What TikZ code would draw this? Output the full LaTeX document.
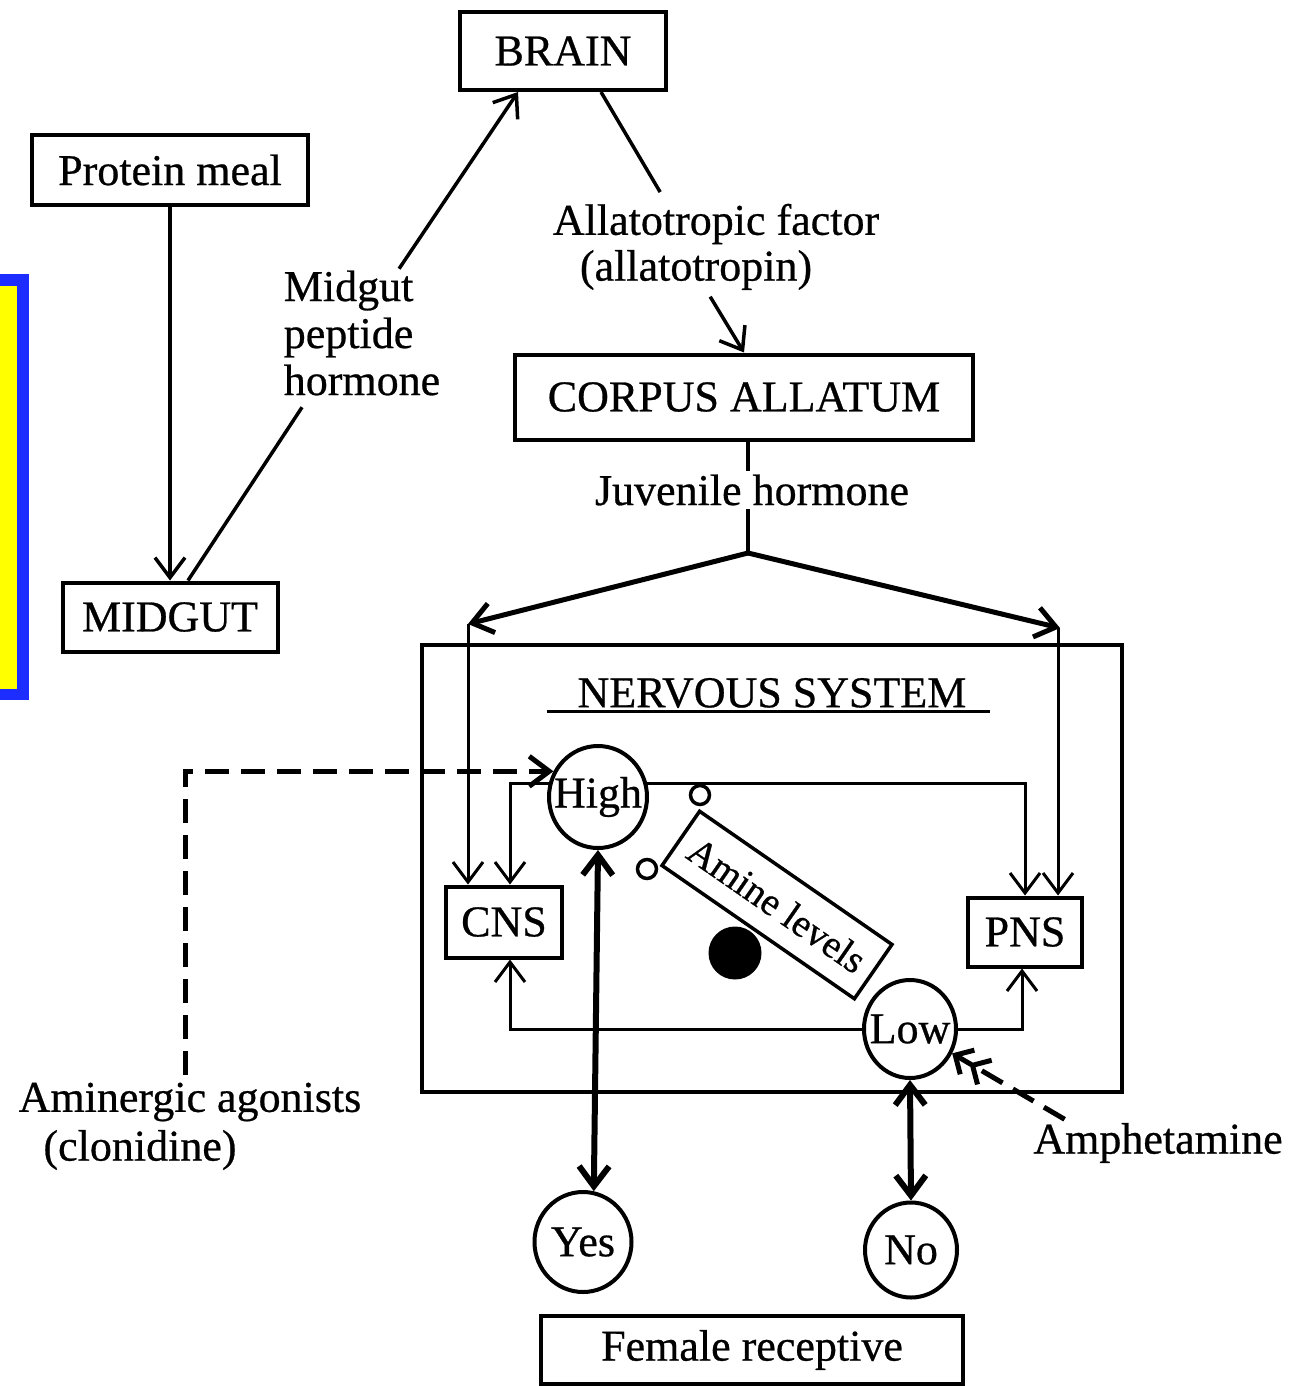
\documentclass[tikz,border=0pt]{standalone}
\usepackage{fontspec}
\setmainfont{Liberation Serif}[FakeBold=0.6]
\usetikzlibrary{arrows.meta,shapes.geometric}
\definecolor{frameblue}{RGB}{30,45,255}
\definecolor{boxyellow}{RGB}{255,255,0}
\begin{document}
\begin{tikzpicture}[x=1pt,y=-1pt,
  font=\fontsize{44}{47}\selectfont,
  line width=3.5pt,
  box/.style={draw, line width=4pt, inner sep=0pt},
  oval/.style={draw, ellipse, line width=4pt, inner sep=0pt},
  lab/.style={inner sep=2pt},
  thin/.style={line width=3pt},
  heavy/.style={line width=6pt},
  arr/.style={-{Straight Barb[length=20pt,width=30pt]}},
  darr/.style={{Straight Barb[length=20pt,width=30pt]}-{Straight Barb[length=20pt,width=30pt]}},
  dsh/.style={line width=5pt, dash pattern=on 24pt off 12pt},
]
\useasboundingbox (0,0) rectangle (1308,1386);
\fill[white] (0,0) rectangle (1308,1386);

% yellow panel with blue frame
\fill[frameblue] (0,274) rectangle (29,700);
\fill[boxyellow] (0,286) rectangle (17,689);

% boxes
\node[box, minimum width=206pt, minimum height=78pt] (brain) at (563,51) {BRAIN};
\node[box, minimum width=276pt, minimum height=70pt] (protein) at (170,170) {Protein meal};
\node[box, minimum width=215pt, minimum height=69pt] (midgut) at (170,617) {MIDGUT};
\node[box, minimum width=458pt, minimum height=85pt] (ca) at (744,397) {CORPUS ALLATUM};
\node[draw, line width=3.5pt, minimum width=700pt, minimum height=447pt, inner sep=0pt] (ns) at (772,868.5) {};
\node[box, minimum width=116pt, minimum height=71pt] (cns) at (504,922) {CNS};
\node[box, minimum width=114pt, minimum height=69pt] (pns) at (1025,932) {PNS};
\node[box, minimum width=422pt, minimum height=68pt] (fem) at (752,1350) {Female receptive};

% ovals (outline nodes, with their words set on top)
\node[oval, minimum width=98pt, minimum height=102pt] (high) at (598,797) {};
\node[oval, minimum width=92pt, minimum height=98pt] (low) at (910,1029) {};
\node[oval, minimum width=97pt, minimum height=100pt] (yes) at (583,1242) {};
\node[oval, minimum width=92pt, minimum height=95pt] (no) at (911,1250) {};
\node[inner sep=0pt] (hightxt) at (high) {High};
\node[inner sep=0pt] (lowtxt) at (low) {Low};
\node[inner sep=0pt] (yestxt) at (yes) {Yes};
\node[inner sep=0pt] (notxt) at (no) {No};

% amine levels balance
\node[draw, line width=3.5pt, rotate=-34.7, minimum width=234pt, minimum height=66pt, inner sep=0pt,
      font=\fontsize{39}{39}\selectfont] (amine) at (777,905) {Amine levels};
\node[draw, circle, line width=3.5pt, fill=white, minimum size=19pt, inner sep=0pt] (c1) at (700,795) {};
\node[draw, circle, line width=3.5pt, fill=white, minimum size=19pt, inner sep=0pt] (c2) at (647,869) {};
\node[circle, fill=black, minimum size=53pt, inner sep=0pt] (dot) at (735,953) {};

% text labels
\node[lab] (atf) at (716,224) {Allatotropic factor};
\node[lab] (atp) at (696,270) {(allatotropin)};
\node[lab, align=left] (mph) at (362,333) {Midgut\\peptide\\hormone};
\node[lab] (jh) at (752,490) {Juvenile hormone};
\node[lab] (nslab) at (772,693) {NERVOUS SYSTEM};
\node[lab] (ag1) at (190,1102) {Aminergic agonists};
\node[lab] (ag2) at (140,1150) {(clonidine)};
\node[lab] (amph) at (1158,1143) {Amphetamine};

\draw[line width=3pt] ([xshift=-27pt]nslab.south west) -- ([xshift=20pt]nslab.south east);

% top connectors
\draw[arr] (protein.south) -- (midgut.north);
\draw ([xshift=18pt]midgut.north) -- ([shift={(22pt,-8pt)}]mph.south west);
\draw[arr] ([shift={(119pt,-2pt)}]mph.north west) -- ([xshift=60pt]brain.south west);
\draw ([xshift=143pt]brain.south west) -- ([shift={(111pt,8pt)}]atf.north west);
\draw[arr] ([shift={(134pt,-3pt)}]atp.south west) -- (ca.north);
\draw ([xshift=4pt]ca.south) -- ([xshift=-4pt]jh.north);

% juvenile hormone split
\coordinate (split) at (748,553);
\coordinate (jl) at (468,624);
\coordinate (jr) at (1060,628);
\draw ([xshift=-4pt]jh.south) -- (split);
\draw[line width=5pt, arr] (split) -- (jl);
\draw[line width=5pt, arr] (split) -- (jr);
\draw[thin, arr] (jl) -- (jl |- cns.north);
\draw[thin, arr] ([xshift=-2pt]jr) -- ([xshift=-2pt]jr |- pns.north);

% nervous system internal connectors
\draw[thin, arr] (high.165) -| ([xshift=6pt]cns.north);
\draw[thin, arr] (high.15) -| (pns.north);
\draw[thin, arr] (low.west) -| ([xshift=6pt]cns.south);
\draw[thin, arr] (low.east) -| ([xshift=-3pt]pns.south);

% outputs
\draw[heavy, darr] (high.south) -- (yes.78);
\draw[heavy, darr] (low.south) -- (no.north);

% drugs
\coordinate (agtop) at (185,1075);
\draw[dsh, arr] (agtop) |- (high.150);
\draw[dsh, -{Straight Barb[length=14pt,width=28pt] Straight Barb[length=14pt,width=28pt]}]
  ([xshift=35pt]amph.north west) -- (low.-30);
\end{tikzpicture}
\end{document}
